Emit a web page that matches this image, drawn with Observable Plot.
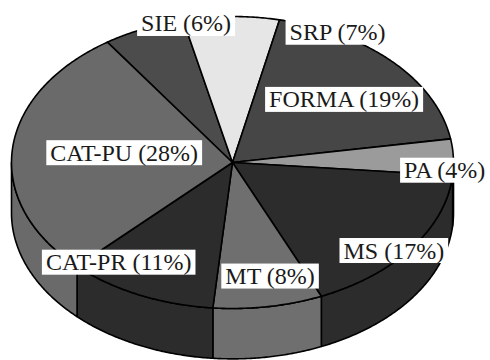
<!DOCTYPE html>
<html>
<head>
<meta charset="utf-8">
<script src="https://cdn.jsdelivr.net/npm/d3@7"></script>
<script src="https://cdn.jsdelivr.net/npm/@observablehq/plot@0.6"></script>
<style>
  html, body { margin: 0; padding: 0; background: #fff; }
  #chart svg { display: block; }
</style>
</head>
<body>
<div id="chart"></div>
<script>
// Share of each category, in percent, clockwise from the top-left
const categories = ["SIE", "SRP", "FORMA", "PA", "MS", "MT", "CAT-PR", "CAT-PU"];
const shares = [6, 7, 19, 4, 17, 8, 11, 28];
const shades = ["#4c4c4c", "#e6e6e6", "#464646", "#9b9b9b", "#2c2c2c", "#6f6f6f", "#2c2c2c", "#6a6a6a"];

// Label anchors, in pie units (x across the horizontal radius, y down the vertical radius)
const labelX = [-0.21, 0.475, 0.505, 0.96, 0.73, 0.17, -0.515, -0.49];
const labelY = [-0.95, -0.89, -0.43, 0.055, 0.605, 0.78, 0.685, -0.065];

const startAngle = -34.5;   // degrees, clockwise from 12 o'clock
const depth = 0.345;        // thickness of the disc, in vertical-radius units
const rad = Math.PI / 180;

// Slice angles from the cumulative shares
let acc = startAngle;
const slices = categories.map((name, i) => {
  const a0 = acc;
  const a1 = acc + shares[i] * 3.6;
  acc = a1;
  return {name, share: shares[i], shade: shades[i], a0, a1};
});

function arc(a0, a1, dy = 0) {
  const n = Math.max(2, Math.ceil(Math.abs(a1 - a0) / 0.5));
  return d3.range(n + 1).map(k => {
    const a = (a0 + (a1 - a0) * k / n) * rad;
    return {x: Math.sin(a), y: -Math.cos(a) + dy};
  });
}

// Visible front wall of each slice (angles between 90° and 270°)
const walls = slices.flatMap(s => {
  const b0 = Math.max(s.a0, 90), b1 = Math.min(s.a1, 270);
  if (b1 <= b0) return [];
  return [{shade: s.shade, pts: [...arc(b0, b1), ...arc(b1, b0, depth)]}];
});

// Top face of each slice
const tops = slices.map(s => ({shade: s.shade, pts: [{x: 0, y: 0}, ...arc(s.a0, s.a1)]}));

const face = f => Plot.line(f.pts, {
  x: "x", y: "y", curve: "linear-closed",
  fill: f.shade, stroke: "#000", strokeWidth: 1.6, strokeLinejoin: "round"
});

const labels = slices.map((s, i) => ({
  text: `${s.name} (${s.share}%)`, x: labelX[i], y: labelY[i]
}));

const chart = Plot.plot({
  width: 490,
  height: 360,
  margin: 0,
  style: {background: "#fff", overflow: "visible"},
  x: {domain: [-1, 1], range: [11, 453], axis: null},
  y: {domain: [-1, 1], range: [16, 308], axis: null},
  marks: [
    ...walls.map(face),
    ...tops.map(face),
    Plot.text(labels, {
      x: "x", y: "y", text: "text",
      fontFamily: "Liberation Serif, Times New Roman, serif",
      fontSize: 24, fill: "#1a1a1a"
    })
  ]
});

document.getElementById("chart").append(chart);

// White boxes behind the labels
chart.querySelectorAll('g[aria-label="text"] text').forEach(t => {
  const b = t.getBBox();
  const r = document.createElementNS("http://www.w3.org/2000/svg", "rect");
  r.setAttribute("x", b.x - 4);
  r.setAttribute("y", b.y + 0.5);
  r.setAttribute("width", b.width + 8);
  r.setAttribute("height", b.height - 1);
  r.setAttribute("fill", "#fff");
  if (t.getAttribute("transform")) r.setAttribute("transform", t.getAttribute("transform"));
  t.parentNode.insertBefore(r, t);
});
</script>
</body>
</html>
